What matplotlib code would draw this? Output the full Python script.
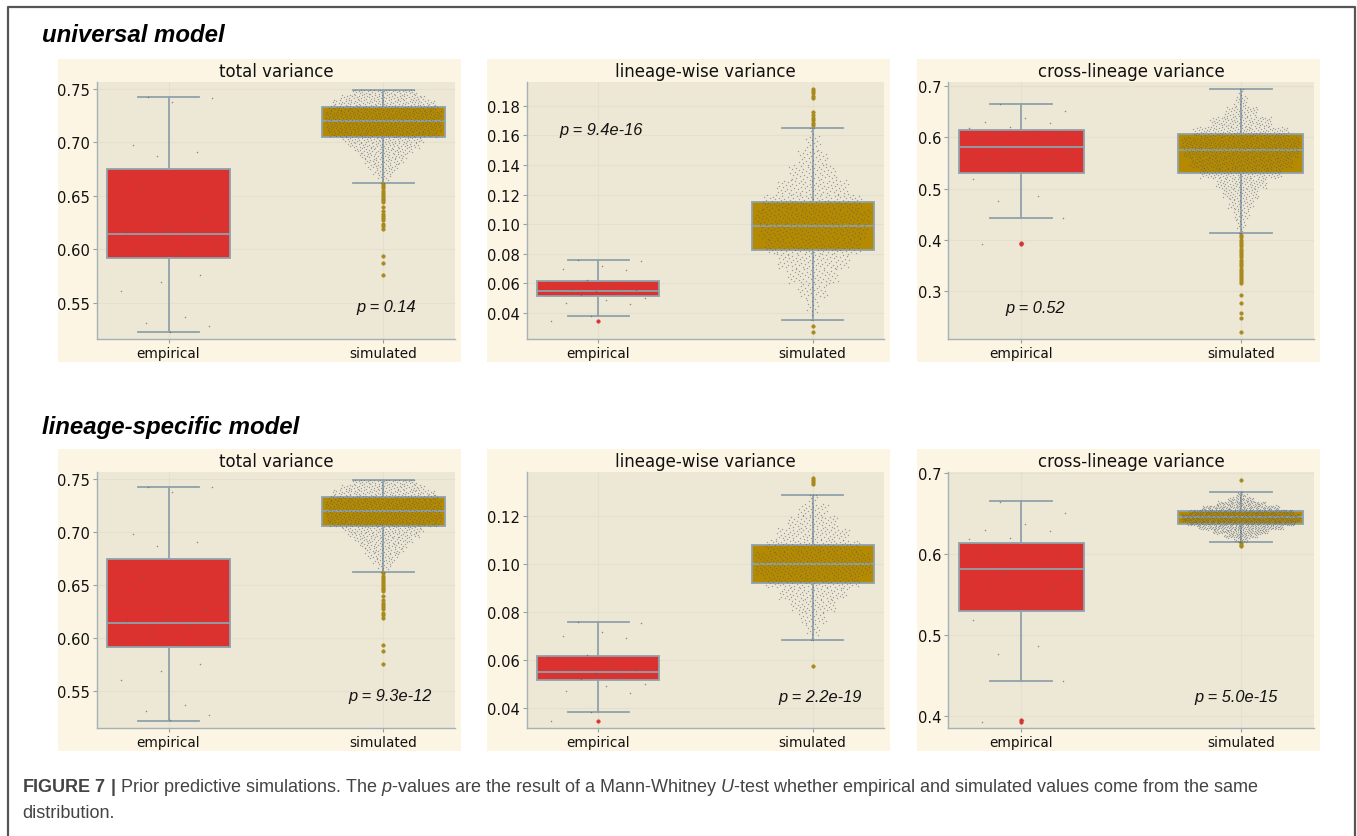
import numpy as np
import matplotlib.pyplot as plt
from matplotlib.patches import Rectangle

plt.rcParams['font.family'] = ['DejaVu Sans']
plt.rcParams['mathtext.fontset'] = 'custom'
plt.rcParams['mathtext.rm'] = 'Liberation Sans'
plt.rcParams['mathtext.it'] = 'Liberation Sans:italic'
plt.rcParams['mathtext.bf'] = 'Liberation Sans:bold'

# ------------------------------------------------------------------
# Data
# ------------------------------------------------------------------
categories = ['empirical', 'simulated']
panel_titles = ['total variance', 'lineage-wise variance', 'cross-lineage variance']
row_titles = ['universal model', 'lineage-specific model']

# empirical values (same in both rows)
emp_total = [0.7425, 0.742, 0.738, 0.698, 0.691, 0.687, 0.671, 0.664, 0.658,
             0.627, 0.620, 0.616, 0.612, 0.610, 0.598, 0.596, 0.597, 0.576,
             0.569, 0.561, 0.537, 0.531, 0.528, 0.5225]
emp_lw = [0.0755, 0.0752, 0.0715, 0.0700, 0.0690, 0.0620, 0.0612, 0.0580,
          0.0562, 0.0558, 0.0545, 0.0540, 0.0532, 0.0520, 0.0500, 0.0490,
          0.0470, 0.0460, 0.0380, 0.0343]
emp_cross = [0.664, 0.650, 0.637, 0.630, 0.628, 0.620, 0.618, 0.612, 0.610,
             0.606, 0.600, 0.598, 0.588, 0.576, 0.572, 0.562, 0.560, 0.558,
             0.535, 0.518, 0.486, 0.476, 0.443, 0.3945, 0.3925]

# box stats: q1, median, q3, lower whisker, upper whisker
emp_total_box = [0.5914, 0.6143, 0.675, 0.5223, 0.7425]
emp_lw_box = [0.0514, 0.0548, 0.0616, 0.0380, 0.0755]
emp_cross_box = [0.5297, 0.5815, 0.6130, 0.4430, 0.6650]
emp_total_fliers = []
emp_lw_fliers = [0.0343]
emp_cross_fliers = [0.3945, 0.3925]

# simulated, universal model
sim_total_box = [0.7053, 0.7203, 0.7334, 0.6622, 0.7494]
sim_total_fliers = [0.661, 0.659, 0.657, 0.655, 0.653, 0.651, 0.649, 0.647,
                    0.646, 0.644, 0.640, 0.636, 0.633, 0.631, 0.629, 0.627,
                    0.624, 0.622, 0.619, 0.5937, 0.5875, 0.5756]
sim_total_bins = [0.660, 0.665, 0.670, 0.675, 0.680, 0.685, 0.690, 0.695, 0.700,
                  0.705, 0.710, 0.715, 0.720, 0.725, 0.730, 0.735, 0.740, 0.745]
sim_total_counts = [3, 8, 14, 20, 26, 32, 40, 50, 57, 80, 85, 85, 85, 85, 80, 75, 60, 45]

sim_lw_u_box = [0.0824, 0.0988, 0.1147, 0.0355, 0.1650]
sim_lw_u_fliers = [0.1911, 0.1898, 0.1885, 0.1868, 0.1852, 0.1755, 0.1738,
                   0.1720, 0.1703, 0.1685, 0.1672, 0.0309, 0.0273]
sim_lw_u_bins = [0.03, 0.04, 0.05, 0.06, 0.07, 0.08, 0.09, 0.10, 0.11, 0.12,
                 0.13, 0.14, 0.15, 0.16]
sim_lw_u_counts = [3, 12, 30, 55, 80, 110, 125, 135, 115, 80, 50, 30, 14, 5]

sim_cross_u_box = [0.5300, 0.5755, 0.6067, 0.4143, 0.6930]
sim_cross_u_fliers = [0.410, 0.405, 0.400, 0.396, 0.392, 0.388, 0.383, 0.378,
                      0.375, 0.371, 0.367, 0.362, 0.357, 0.353, 0.349, 0.344,
                      0.340, 0.336, 0.332, 0.328, 0.324, 0.320, 0.316, 0.293,
                      0.278, 0.258, 0.248, 0.221]
sim_cross_u_bins = [0.40, 0.42, 0.44, 0.46, 0.48, 0.50, 0.52, 0.54, 0.56, 0.58,
                    0.60, 0.62, 0.64, 0.66, 0.68]
sim_cross_u_counts = [4, 10, 18, 30, 45, 65, 110, 140, 160, 165, 130, 80, 40, 15, 5]

# simulated, lineage-specific model
sim_lw_s_box = [0.0921, 0.1000, 0.1078, 0.0683, 0.1286]
sim_lw_s_fliers = [0.1355, 0.1347, 0.1339, 0.1331, 0.0573]
sim_lw_s_bins = [0.065, 0.070, 0.075, 0.080, 0.085, 0.090, 0.095, 0.100,
                 0.105, 0.110, 0.115, 0.120, 0.125]
sim_lw_s_counts = [3, 12, 25, 45, 70, 100, 125, 125, 100, 75, 50, 28, 8]

sim_cross_s_box = [0.6370, 0.6452, 0.6533, 0.6147, 0.6765]
sim_cross_s_fliers = [0.6915, 0.6135, 0.6115, 0.6095]
sim_cross_s_bins = [0.610, 0.615, 0.620, 0.625, 0.630, 0.635, 0.640, 0.645,
                    0.650, 0.655, 0.660, 0.665, 0.670, 0.675]
sim_cross_s_counts = [3, 15, 40, 70, 110, 145, 160, 160, 140, 100, 60, 30, 12, 2]

p_values = [['0.14', '9.4e-16', '0.52'],
            ['9.3e-12', '2.2e-19', '5.0e-15']]

# ------------------------------------------------------------------
# Style / layout
# ------------------------------------------------------------------
RED = '#DC322F'
GOLD = '#B58900'
EDGE = '#8fa2aa'
CREAM = '#fcf5e4'
AXBG = '#ede7d6'
W, H = 1357, 837

fig = plt.figure(figsize=(W / 100, H / 100), dpi=100)
fig.patch.set_facecolor('white')


def px_rect(x0, y0, x1, y1):
    return [x0 / W, 1 - y1 / H, (x1 - x0) / W, (y1 - y0) / H]


# outer frame (open at the bottom)
fig.add_artist(plt.Line2D([8 / W, 8 / W, 1355 / W, 1355 / W],
                          [0, 1 - 8 / H, 1 - 8 / H, 0], color='#555555', lw=1.6,
                          transform=fig.transFigure))

col_axes = [(97, 455), (527, 884), (948, 1314)]
col_cream = [(58, 461), (487, 890), (917, 1320)]
row_axes = [(83, 340), (473, 729)]
row_cream = [(60, 363), (450, 752)]
row_title_y = [35, 428]

ylims = [[(0.516, 0.7566), (0.0224, 0.196), (0.2076, 0.707)],
         [(0.5153, 0.7566), (0.0315, 0.1382), (0.3848, 0.7012)]]
yticks = [[np.arange(0.55, 0.751, 0.05), np.arange(0.04, 0.181, 0.02), np.arange(0.3, 0.71, 0.1)],
          [np.arange(0.55, 0.751, 0.05), np.arange(0.04, 0.121, 0.02), np.arange(0.4, 0.71, 0.1)]]
yfmt = ['{:.2f}', '{:.2f}', '{:.1f}']
p_pos = [[(0.807, 0.125), (0.207, 0.817), (0.238, 0.121)],
         [(0.818, 0.126), (0.821, 0.122), (0.786, 0.122)]]

emp_data = [emp_total, emp_lw, emp_cross]
emp_boxes = [emp_total_box, emp_lw_box, emp_cross_box]
emp_fl = [emp_total_fliers, emp_lw_fliers, emp_cross_fliers]
sim_boxes = [[sim_total_box, sim_lw_u_box, sim_cross_u_box],
             [sim_total_box, sim_lw_s_box, sim_cross_s_box]]
sim_fl = [[sim_total_fliers, sim_lw_u_fliers, sim_cross_u_fliers],
          [sim_total_fliers, sim_lw_s_fliers, sim_cross_s_fliers]]
sim_bins = [[sim_total_bins, sim_lw_u_bins, sim_cross_u_bins],
            [sim_total_bins, sim_lw_s_bins, sim_cross_s_bins]]
sim_counts = [[sim_total_counts, sim_lw_u_counts, sim_cross_u_counts],
              [sim_total_counts, sim_lw_s_counts, sim_cross_s_counts]]

PHI = 0.6180339887


def box_stats(b, fliers):
    return dict(q1=b[0], med=b[1], q3=b[2], whislo=b[3], whishi=b[4], fliers=fliers)


def cloud(bins, counts, box, xc, maxhw=0.27):
    # swarm-like cloud built from a histogram of the simulated values
    bw = bins[1] - bins[0]
    cmax = max(counts)
    xs, ys = [], []
    k = 0
    for lo, n in zip(bins, counts):
        hw = maxhw * (n / cmax) ** 0.9
        for i in range(n):
            y = lo + (i + 0.5) / n * bw
            y = min(max(y, box[3]), box[4])
            f = (k * PHI) % 1.0
            xs.append(xc + hw * (2 * f - 1))
            ys.append(y)
            k += 1
    return xs, ys


for r in range(2):
    fig.text(42 / W, 1 - row_title_y[r] / H, row_titles[r], fontsize=17.3,
             fontweight='bold', fontstyle='italic', family='Liberation Sans',
             ha='left', va='center', color='black')
    for c in range(3):
        cx0, cx1 = col_cream[c]
        cy0, cy1 = row_cream[r]
        fig.add_artist(Rectangle((cx0 / W, 1 - cy1 / H), (cx1 - cx0) / W, (cy1 - cy0) / H,
                                 transform=fig.transFigure, facecolor=CREAM,
                                 edgecolor='none', zorder=0))
        ax = fig.add_axes(px_rect(col_axes[c][0], row_axes[r][0], col_axes[c][1], row_axes[r][1]))
        ax.set_facecolor(AXBG)
        ax.set_axisbelow(True)
        ax.grid(True, color='#e5dfce', lw=0.8)

        stats = [box_stats(emp_boxes[c], emp_fl[c]), box_stats(sim_boxes[r][c], sim_fl[r][c])]
        bp = ax.bxp(stats, positions=[0, 1], widths=0.57, capwidths=0.285,
                    patch_artist=True, showfliers=True,
                    boxprops=dict(edgecolor=EDGE, linewidth=1.3),
                    medianprops=dict(color=EDGE, linewidth=1.3),
                    whiskerprops=dict(color=EDGE, linewidth=1.3),
                    capprops=dict(color=EDGE, linewidth=1.3),
                    flierprops=dict(marker='o', markersize=2.6, markeredgewidth=0.3))
        for patch, col in zip(bp['boxes'], [RED, GOLD]):
            patch.set_facecolor(col)
        for fl, col in zip(bp['fliers'], [RED, '#a88a1c']):
            fl.set_markerfacecolor(col)
            fl.set_markeredgecolor(col)

        # simulated cloud
        xs, ys = cloud(sim_bins[r][c], sim_counts[r][c], sim_boxes[r][c], 1)
        ax.scatter(xs, ys, s=1.0, color='#56636a', alpha=0.55, linewidths=0, zorder=5)
        # empirical points
        n = len(emp_data[c])
        ex = [0.24 * (2 * ((i * PHI + 0.3) % 1.0) - 1) for i in range(n)]
        ax.scatter(ex, emp_data[c], s=1.2, color='#56636a', alpha=0.7, linewidths=0, zorder=5)

        ax.set_xlim(-0.333, 1.333)
        ax.set_ylim(*ylims[r][c])
        ax.set_xticks([0, 1])
        ax.set_xticklabels(categories)
        ax.set_yticks(yticks[r][c])
        ax.set_yticklabels([yfmt[c].format(v) for v in yticks[r][c]])
        ax.tick_params(axis='both', labelsize=9.8, colors='#93a1a1', labelcolor='#111111',
                       length=3, width=0.8, pad=2)
        ax.tick_params(axis='y', labelsize=10.6)
        for s in ['top', 'right']:
            ax.spines[s].set_visible(False)
        for s in ['left', 'bottom']:
            ax.spines[s].set_color('#a4b2b6')
            ax.spines[s].set_linewidth(1.0)
        ax.set_title(panel_titles[c], fontsize=12, pad=4, color='#111111')
        ax.text(p_pos[r][c][0], p_pos[r][c][1], 'p = ' + p_values[r][c],
                transform=ax.transAxes, ha='center', va='center', fontsize=11.8,
                fontstyle='italic', family='Liberation Sans', color='#111111')

# caption
fig.text(22 / W, 1 - 788 / H,
         r'$\mathbf{FIGURE\ 7\ |}$ Prior predictive simulations. The $p$-values are the result of a '
         r'Mann-Whitney $U$-test whether empirical and simulated values come from the same',
         fontsize=13, family='Liberation Sans', color='#444444', ha='left', va='center')
fig.text(22 / W, 1 - 814 / H, 'distribution.', fontsize=13, family='Liberation Sans',
         color='#444444', ha='left', va='center')

fig.savefig('out.png', dpi=100, facecolor='white')
